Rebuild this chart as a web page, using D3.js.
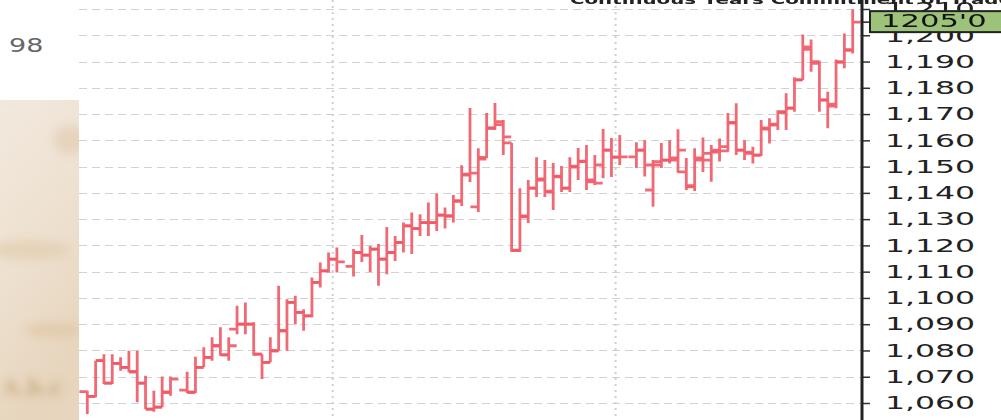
<!DOCTYPE html>
<html>
<head>
<meta charset="utf-8">
<script src="https://cdn.jsdelivr.net/npm/d3@7"></script>
<style>
  html, body { margin: 0; padding: 0; background: #fff; overflow: hidden; }
  svg { display: block; }
</style>
</head>
<body>
<div id="chart"></div>
<script>
// OHLC bar chart (daily sessions)

// set the dimensions of the graph
var width = 1001
var height = 420

// session index of each bar (missing numbers = no trading that day)
var sessions = [0,1,2,3,4,5,6,7,8,9,10,
  12,13,14,15,16,17,18,19,20,21,22,23,24,25,26,27,28,29,30,
  32,33,34,35,36,37,38,39,40,41,42,43,44,45,46,47,48,49,50,51,52,53,54,55,56,57,58,59,60,61,62,63,64,
  66,67,68,69,70,71,72,73,74,75,76,77,78,79,80,81,82,83,84,85,86,87,88,89,90,91,92]

var opens = [1064.3,1062.5,1076.1,1067.6,1075.1,1073.6,1071.9,1067.6,1057.7,1058.4,1064.1,
  1064.9,1064.1,1073.6,1077.4,1081.8,1078.3,1088.1,1090.0,1090.0,1078.6,1075.5,1079.9,1087.5,1098.3,1094.5,1093.2,1105.9,1110.3,1114.8,
  1112.0,1117.3,1116.3,1118.6,1114.8,1117.3,1121.1,1127.4,1126.4,1128.7,1128.7,1131.5,1131.2,1136.9,1146.8,1134.7,1153.5,1164.7,1166.0,1159.0,1118.2,1131.2,1141.8,1144.9,1140.7,1146.4,1141.8,1150.2,1152.1,1144.9,1150.6,1156.3,1153.6,
  1153.7,1156.3,1141.1,1150.6,1152.5,1152.5,1148.0,1142.3,1152.5,1152.5,1155.5,1156.0,1166.7,1156.3,1155.5,1154.4,1164.7,1165.8,1170.6,1172.3,1183.0,1194.6,1190.0,1175.4,1173.0,1190.0,1194.4]

var highs = [1064.7,1076.1,1078.6,1078.6,1077.4,1079.9,1079.9,1070.4,1064.7,1070.1,1070.1,
  1071.9,1077.6,1081.2,1085.0,1088.8,1085.0,1097.0,1098.3,1090.7,1078.6,1085.0,1104.6,1099.5,1100.8,1095.7,1107.8,1113.5,1117.3,1119.2,
  1118.6,1124.0,1119.8,1120.5,1127.0,1123.6,1128.7,1132.5,1131.9,1136.3,1139.8,1134.4,1139.2,1150.5,1172.3,1157.0,1170.4,1174.2,1167.7,1159.0,1141.8,1144.9,1153.6,1152.5,1151.4,1150.2,1153.6,1157.1,1158.2,1154.4,1164.3,1160.9,1162.0,
  1159.3,1160.0,1152.5,1159.0,1160.0,1164.2,1153.3,1157.0,1161.1,1158.2,1160.7,1170.4,1174.1,1160.0,1157.6,1167.7,1168.4,1171.5,1177.9,1184.0,1200.3,1198.4,1190.3,1178.5,1190.8,1200.7,1209.9]

var lows = [1055.8,1062.2,1067.2,1067.2,1072.3,1071.7,1060.3,1057.7,1056.7,1058.4,1062.8,
  1063.8,1063.8,1073.6,1076.1,1078.0,1076.1,1086.2,1086.2,1078.0,1069.1,1075.5,1079.9,1079.9,1090.0,1087.5,1092.6,1104.0,1109.7,1109.7,
  1108.2,1113.7,1109.9,1104.6,1109.0,1114.1,1117.3,1116.7,1123.6,1123.6,1125.5,1126.4,1128.7,1135.0,1144.1,1132.7,1153.3,1163.9,1154.4,1117.5,1117.5,1128.5,1138.4,1138.4,1133.5,1140.3,1140.3,1144.9,1141.1,1143.0,1145.6,1146.0,1150.6,
  1149.5,1146.2,1134.7,1149.5,1151.2,1147.7,1141.1,1140.7,1147.9,1144.2,1151.9,1155.7,1154.4,1152.5,1151.2,1154.0,1158.8,1163.9,1163.9,1170.9,1183.0,1186.1,1170.9,1164.6,1172.2,1187.4,1193.1]

var closes = [1062.5,1076.1,1067.6,1075.1,1073.6,1071.9,1067.6,1057.7,1058.4,1064.1,1069.1,
  1064.1,1073.6,1077.4,1081.8,1078.3,1081.8,1090.0,1090.0,1078.6,1075.5,1079.9,1087.5,1098.3,1094.5,1093.2,1105.9,1110.3,1114.8,1113.7,
  1117.3,1116.3,1118.6,1114.8,1117.3,1121.1,1127.4,1126.4,1128.7,1128.7,1131.5,1131.2,1136.9,1147.1,1147.5,1152.9,1164.6,1167.1,1161.3,1118.0,1130.9,1141.8,1145.3,1140.4,1146.1,1141.8,1149.8,1151.9,1144.2,1143.7,1156.3,1153.6,1153.7,
  1156.3,1150.6,1151.9,1152.5,1153.3,1156.3,1142.7,1153.3,1155.0,1156.3,1157.6,1166.7,1156.3,1155.0,1154.4,1164.3,1166.2,1170.9,1172.3,1183.0,1195.6,1189.3,1175.3,1173.8,1189.7,1194.4,1205.0]

// first session of a new month -> dotted vertical line
var monthStarts = [30, 64]

// price axis ticks
var priceTicks = [1060,1070,1080,1090,1100,1110,1120,1130,1140,1150,1160,1170,1180,1190,1200,1210]

var lastPriceLabel = "1205'0"
var sideLabel = "98"
var titleText = "Continuous Years Commitment of Traders"

var svg = d3.select("#chart")
  .append("svg")
    .attr("width", width)
    .attr("height", height)

var defs = svg.append("defs")

// scales
var x = d3.scaleLinear()
  .domain([0, 92])
  .range([87.3, 852.7])
var y = d3.scaleLinear()
  .domain([1060, 1210])
  .range([403, 9])
var step = x(1) - x(0)

var plotLeft = 79, axisX = 862

// beige photo strip on the left
var grad = defs.append("linearGradient").attr("id", "beige")
  .attr("x1", 0).attr("y1", 0).attr("x2", 0.3).attr("y2", 1)
grad.append("stop").attr("offset", "0%").attr("stop-color", "#f2e9de")
grad.append("stop").attr("offset", "55%").attr("stop-color", "#ede0cf")
grad.append("stop").attr("offset", "100%").attr("stop-color", "#e7d5bd")
defs.append("filter").attr("id", "blur")
  .append("feGaussianBlur").attr("stdDeviation", 4)
defs.append("clipPath").attr("id", "stripClip")
  .append("rect").attr("x", 0).attr("y", 100).attr("width", plotLeft).attr("height", height - 100)

var strip = svg.append("g").attr("clip-path", "url(#stripClip)")
strip.append("rect")
  .attr("x", 0).attr("y", 100).attr("width", plotLeft).attr("height", height - 100)
  .style("fill", "url(#beige)")
var blobs = strip.append("g").attr("filter", "url(#blur)")
blobs.append("ellipse").attr("cx", 70).attr("cy", 140).attr("rx", 16).attr("ry", 14).style("fill", "#dfcaad").style("opacity", 0.6)
blobs.append("ellipse").attr("cx", 30).attr("cy", 250).attr("rx", 40).attr("ry", 10).style("fill", "#e4cfb3").style("opacity", 0.8)
blobs.append("ellipse").attr("cx", 55).attr("cy", 330).attr("rx", 30).attr("ry", 8).style("fill", "#e0c8a8").style("opacity", 0.7)
blobs.append("text")
  .attr("x", 2).attr("y", 395)
  .style("font-family", "DejaVu Serif").style("font-size", "22px").style("font-weight", "bold")
  .style("fill", "#c4a272").style("opacity", 0.8)
  .text("A.b.c")

// corner label
svg.append("g")
  .attr("transform", "translate(9,52) scale(1.35,1)")
  .append("text")
    .style("font-family", "DejaVu Sans").style("font-size", "20px")
    .style("fill", "#666")
    .text(sideLabel)

// horizontal dashed grid
svg.append("g")
  .selectAll("line")
  .data(priceTicks)
  .enter()
  .append("line")
    .attr("x1", plotLeft).attr("x2", axisX)
    .attr("y1", function(d){ return Math.round(y(d)) + 0.5 })
    .attr("y2", function(d){ return Math.round(y(d)) + 0.5 })
    .style("stroke", "#d2d2d2")
    .style("stroke-dasharray", "8,5")

// vertical dotted grid at month starts
svg.append("g")
  .selectAll("line")
  .data(monthStarts)
  .enter()
  .append("line")
    .attr("x1", function(d){ return x(d) - step / 2 })
    .attr("x2", function(d){ return x(d) - step / 2 })
    .attr("y1", 0).attr("y2", height)
    .style("stroke", "#cfcfcf")
    .style("stroke-width", 2)
    .style("stroke-dasharray", "2,4")

// title (cut off by the top of the picture)
svg.append("g")
  .attr("transform", "translate(570,4) scale(1.65,1)")
  .append("text")
    .style("font-family", "DejaVu Sans").style("font-size", "12px").style("font-weight", "bold")
    .style("fill", "#222")
    .text(titleText)

// bars
var bars = sessions.map(function(s, i){
  return { s: s, o: opens[i], h: highs[i], l: lows[i], c: closes[i] }
})
var tick = step * 0.95
svg.append("g")
  .selectAll("path")
  .data(bars)
  .enter()
  .append("path")
    .attr("d", function(d){
      var cx = x(d.s)
      return "M" + cx + "," + y(d.h) + "V" + y(d.l) +
        "M" + (cx - tick) + "," + y(d.o) + "H" + cx +
        "M" + cx + "," + y(d.c) + "H" + (cx + tick)
    })
    .style("fill", "none")
    .style("stroke", "#ef5965")
    .style("stroke-opacity", 0.9)
    .style("stroke-width", 2.8)

// price axis on the right
var sx = 1.75
var axis = svg.append("g")
  .attr("transform", "translate(" + axisX + ",0)")
  .call(d3.axisRight(y).tickValues(priceTicks).tickFormat(d3.format(",")).tickSize(8))
axis.select(".domain").remove()
axis.selectAll(".tick line").style("stroke", "#333").style("stroke-width", 1.5)
axis.selectAll(".tick text")
  .attr("x", 23 / sx)
  .attr("transform", "scale(" + sx + ",1)")
  .style("font-family", "DejaVu Sans").style("font-size", "18px")
  .style("fill", "#222")

svg.append("line")
  .attr("x1", axisX).attr("x2", axisX)
  .attr("y1", 0).attr("y2", height)
  .style("stroke", "#222").style("stroke-width", 3)

// last price marker
var lastY = y(closes[closes.length - 1])
svg.append("line")
  .attr("x1", axisX).attr("x2", 870)
  .attr("y1", lastY).attr("y2", lastY)
  .style("stroke", "#222").style("stroke-width", 1.5)
svg.append("rect")
  .attr("x", 870).attr("y", lastY - 11)
  .attr("width", 140).attr("height", 21)
  .style("fill", "#9dc279")
  .style("stroke", "#222").style("stroke-width", 2)
svg.append("g")
  .attr("transform", "translate(881," + (lastY + 5) + ") scale(1.7,1)")
  .append("text")
    .style("font-family", "DejaVu Sans").style("font-size", "18px")
    .style("fill", "#111")
    .text(lastPriceLabel)
</script>
</body>
</html>
